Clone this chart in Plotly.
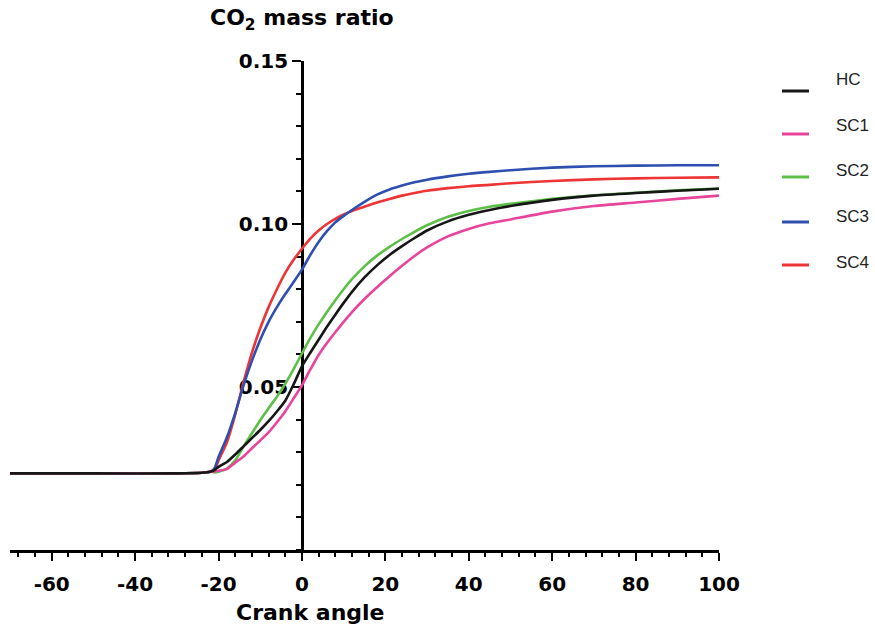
import plotly.graph_objects as go

# Crank angle samples (deg) shared by all cases
crank_angle = [-70, -50, -30, -24, -22, -21, -20, -18, -16, -14, -12, -10, -8, -6, -4, -2,
               0, 2, 4, 6, 8, 10, 12, 15, 18, 21, 24, 27, 30, 35, 40, 45, 50, 60, 70, 80, 90, 100]

# CO2 mass ratio for each case
hc = [0.0235, 0.0235, 0.0235, 0.0237, 0.0240, 0.0245, 0.0255, 0.0270, 0.0293, 0.0318, 0.0343,
      0.0368, 0.0395, 0.0425, 0.0458, 0.0508, 0.0563, 0.0605, 0.0645, 0.0685, 0.0722, 0.0758,
      0.0792, 0.0836, 0.0873, 0.0905, 0.0932, 0.0957, 0.0980, 0.1008, 0.1028, 0.1043, 0.1055,
      0.1074, 0.1087, 0.1095, 0.1102, 0.1108]
sc1 = [0.0235, 0.0235, 0.0235, 0.0237, 0.0240, 0.0241, 0.0243, 0.0248, 0.0268, 0.0287, 0.0312,
       0.0336, 0.0361, 0.0392, 0.0425, 0.0465, 0.0505, 0.0553, 0.0598, 0.0635, 0.0668, 0.0700,
       0.0730, 0.0770, 0.0806, 0.0840, 0.0872, 0.0902, 0.0928, 0.0962, 0.0985, 0.1002, 0.1014,
       0.1038, 0.1055, 0.1066, 0.1077, 0.1087]
sc2 = [0.0235, 0.0235, 0.0235, 0.0237, 0.0240, 0.0238, 0.0240, 0.0250, 0.0275, 0.0318, 0.0358,
       0.0398, 0.0435, 0.0470, 0.0510, 0.0555, 0.0603, 0.0650, 0.0692, 0.0730, 0.0766, 0.0800,
       0.0831, 0.0870, 0.0903, 0.0930, 0.0954, 0.0976, 0.0996, 0.1022, 0.1040, 0.1053, 0.1062,
       0.1077, 0.1088, 0.1096, 0.1103, 0.1109]
sc3 = [0.0235, 0.0235, 0.0235, 0.0237, 0.0240, 0.0250, 0.0285, 0.0345, 0.0420, 0.0505, 0.0580,
       0.0645, 0.0700, 0.0745, 0.0785, 0.0822, 0.0860, 0.0905, 0.0945, 0.0978, 0.1005, 0.1025,
       0.1043, 0.1068, 0.1090, 0.1106, 0.1118, 0.1128, 0.1136, 0.1146, 0.1154, 0.1160, 0.1165,
       0.1173, 0.1177, 0.1179, 0.1180, 0.1180]
sc4 = [0.0235, 0.0235, 0.0235, 0.0237, 0.0240, 0.0245, 0.0275, 0.0330, 0.0415, 0.0515, 0.0605,
       0.0680, 0.0745, 0.0800, 0.0850, 0.0890, 0.0924, 0.0955, 0.0980, 0.1000, 0.1016, 0.1029,
       0.1040, 0.1053, 0.1066, 0.1077, 0.1087, 0.1095, 0.1102, 0.1110, 0.1116, 0.1120, 0.1125,
       0.1132, 0.1137, 0.1140, 0.1142, 0.1143]

names = ["HC", "SC1", "SC2", "SC3", "SC4"]
series = [hc, sc1, sc2, sc3, sc4]
colors = ["#161616", "#e8449c", "#5cbf48", "#2f4fb0", "#ee3434"]

x_ticks = [-60, -40, -20, 0, 20, 40, 60, 80, 100]
x_tick_text = ["-60", "-40", "-20", "0", "20", "40", "60", "80", "100"]
y_ticks = [0.05, 0.10, 0.15]
y_tick_text = ["0.05", "0.10", "0.15"]

W, H = 875, 629
ML, MR, MT, MB = 10, 156, 61, 79
X_MIN, X_MAX = -70, 100
PW, PH = W - ML - MR, H - MT - MB


def px_to_paper_x(px):
    return (px - ML) / PW


def px_to_paper_y(py):
    return (H - MB - py) / PH


fig = go.Figure()

# draw back to front so HC sits on top
for name, vals, col in reversed(list(zip(names, series, colors))):
    fig.add_trace(go.Scatter(x=crank_angle, y=vals, mode="lines", name=name,
                             line=dict(color=col, width=2.6, shape="spline", smoothing=0.6),
                             showlegend=False))

tick_font = dict(family="DejaVu Sans", size=20, color="black", weight="bold")

fig.update_layout(
    width=W, height=H,
    margin=dict(l=ML, r=MR, t=MT, b=MB),
    paper_bgcolor="white", plot_bgcolor="white",
    xaxis=dict(
        range=[X_MIN, X_MAX], domain=[0, 1], anchor="y",
        showgrid=False, zeroline=False,
        showline=True, linecolor="black", linewidth=2.6,
        tickmode="array", tickvals=x_ticks, ticktext=x_tick_text,
        ticks="outside", ticklen=8, tickwidth=2.4, tickcolor="black",
        tickfont=tick_font, ticklabelstandoff=6,
        minor=dict(tickmode="linear", tick0=0, dtick=4, ticks="outside",
                   ticklen=4, tickwidth=2, tickcolor="black"),
    ),
    yaxis=dict(
        range=[0, 0.15], anchor="free", position=(0 - X_MIN) / (X_MAX - X_MIN),
        showgrid=False, zeroline=False,
        showline=True, linecolor="black", linewidth=2.6,
        tickmode="array", tickvals=y_ticks, ticktext=y_tick_text,
        ticks="outside", ticklen=9, tickwidth=2.4, tickcolor="black",
        tickfont=tick_font, layer="below traces",
        minor=dict(tickmode="linear", tick0=0, dtick=0.01, ticks="outside",
                   ticklen=5, tickwidth=2, tickcolor="black"),
    ),
)

# axis titles
fig.add_annotation(x=0, xref="x", y=px_to_paper_y(19), yref="paper",
                   text="CO<sub>2</sub> mass ratio", showarrow=False,
                   xanchor="center", yanchor="middle",
                   font=dict(family="DejaVu Sans", size=22, color="black", weight="bold"))
fig.add_annotation(x=px_to_paper_x(310), xref="paper", y=px_to_paper_y(612), yref="paper",
                   text="Crank angle", showarrow=False,
                   xanchor="center", yanchor="middle",
                   font=dict(family="DejaVu Sans", size=22, color="black", weight="bold"))

# legend on the right
legend_line_y = [91, 134, 177, 222, 265]
legend_text_y = [79, 125, 170, 216, 262]
for name, col, ly, ty in zip(names, colors, legend_line_y, legend_text_y):
    fig.add_shape(type="line", xref="paper", yref="paper",
                  x0=px_to_paper_x(782), x1=px_to_paper_x(809),
                  y0=px_to_paper_y(ly), y1=px_to_paper_y(ly),
                  line=dict(color=col, width=3))
    fig.add_annotation(x=px_to_paper_x(834), xref="paper", y=px_to_paper_y(ty), yref="paper",
                       text=name, showarrow=False, xanchor="left", yanchor="middle",
                       font=dict(family="Liberation Sans", size=17, color="#222222"))

fig.write_html("out.html")
